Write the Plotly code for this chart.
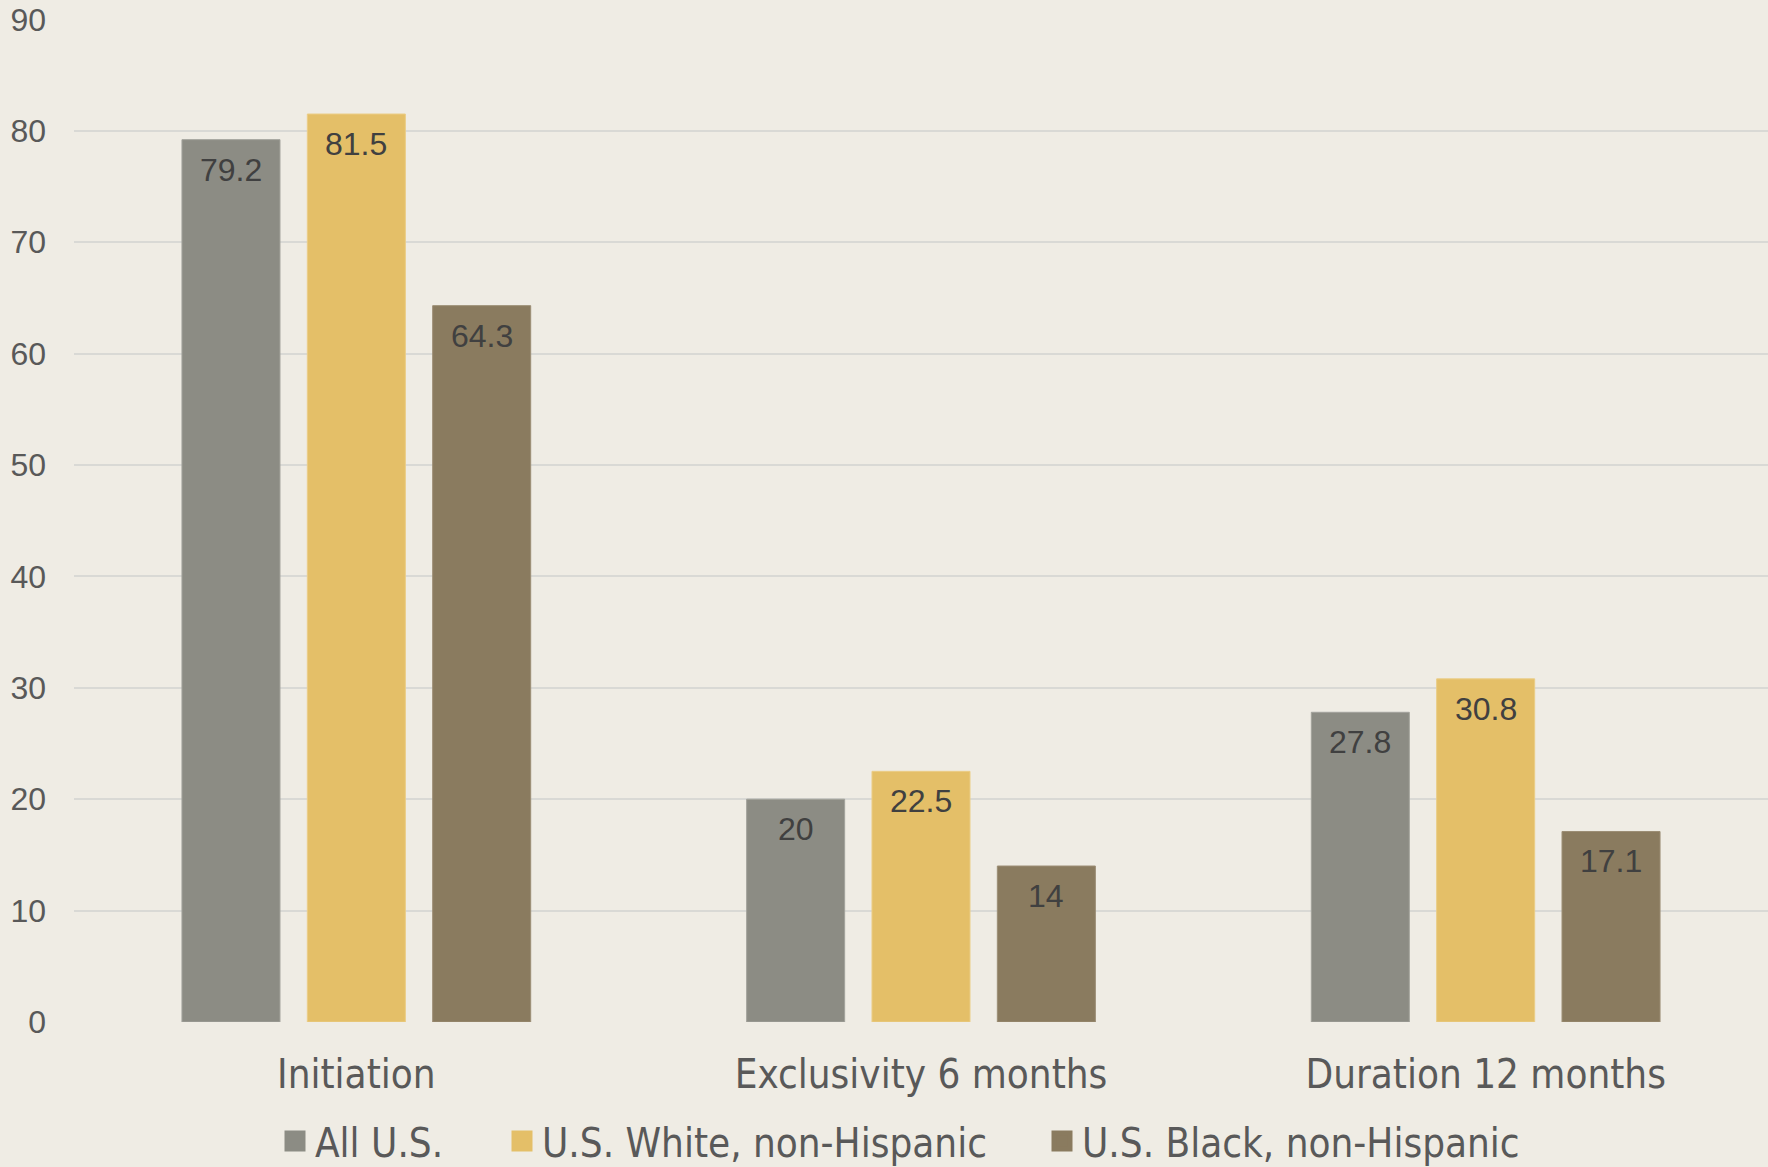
import plotly.graph_objects as go

# Breastfeeding rates (%) by measure and group
categories = ["Initiation", "Exclusivity 6 months", "Duration 12 months"]
series_names = ["All U.S.", "U.S. White, non-Hispanic", "U.S. Black, non-Hispanic"]
all_us = [79.2, 20, 27.8]
white_nh = [81.5, 22.5, 30.8]
black_nh = [64.3, 14, 17.1]
y_ticks = [0, 10, 20, 30, 40, 50, 60, 70, 80, 90]

series_values = [all_us, white_nh, black_nh]
colors = ["#8C8C84", "#E4BF68", "#8A7B5F"]
outline = ["#A3A39C", "#EBCD86", "#9C8E75"]

BG = "#EFECE4"
W, H = 1768, 1167
M_L, M_R, M_T, M_B = 74, 0, 19, 145
BARGAP = 0.334
BARGROUPGAP = 0.218
NARROW = "Liberation Sans Narrow, DejaVu Sans Condensed, Arial Narrow, sans-serif"
REGULAR = "Liberation Sans, Arial, sans-serif"

fig = go.Figure()

for name, vals, c, oc in zip(series_names, series_values, colors, outline):
    fig.add_trace(go.Bar(
        x=categories, y=vals, name=name,
        marker=dict(color=c, line=dict(color=oc, width=1)),
        showlegend=False, hoverinfo="x+y+name",
    ))

# Legend entries with larger square swatches
legend_widths = [182, 495, 440]
for name, c, lw in zip(series_names, colors, legend_widths):
    fig.add_trace(go.Scatter(
        x=[None], y=[None], mode="markers", name=name,
        marker=dict(symbol="square", size=16, color=c, line=dict(color=c, width=5)),
        legendwidth=lw,
    ))

# Value labels placed just inside the top of each bar
plot_w = W - M_L - M_R
plot_h = H - M_T - M_B
slot = plot_w / len(categories) * (1 - BARGAP) / len(series_names)
annotations = []
for i, vals in enumerate(series_values):
    for cat, v in zip(categories, vals):
        annotations.append(dict(
            x=cat, y=v, xref="x", yref="y", text=f"{v:g}", showarrow=False,
            xshift=(i - 1) * slot, yshift=-30, yanchor="middle",
            font=dict(family=REGULAR, size=32, color="#404040"),
        ))

fig.update_layout(
    width=W, height=H,
    margin=dict(l=M_L, r=M_R, t=M_T, b=M_B, pad=0, autoexpand=False),
    paper_bgcolor=BG, plot_bgcolor=BG,
    barmode="group", bargap=BARGAP, bargroupgap=BARGROUPGAP,
    annotations=annotations,
    legend=dict(
        orientation="h", x=(275 - M_L) / plot_w, xanchor="left",
        y=-(1141 - (H - M_B)) / plot_h, yanchor="middle",
        font=dict(family=NARROW, size=40, color="#595959"),
        bgcolor="rgba(0,0,0,0)", itemclick=False,
    ),
    xaxis=dict(
        type="category", showgrid=False, showline=False, zeroline=False,
        ticks="", ticklabelstandoff=25,
        tickfont=dict(family=NARROW, size=40, color="#595959"),
    ),
    yaxis=dict(
        range=[0, 90.03], tickvals=y_ticks, showgrid=True, gridcolor="#D9D9D5", gridwidth=2,
        zeroline=False, showline=False, ticks="", ticklabelstandoff=27,
        ticklabeloverflow="allow",
        tickfont=dict(family=REGULAR, size=32, color="#595959"),
    ),
)

fig.write_html("out.html")
